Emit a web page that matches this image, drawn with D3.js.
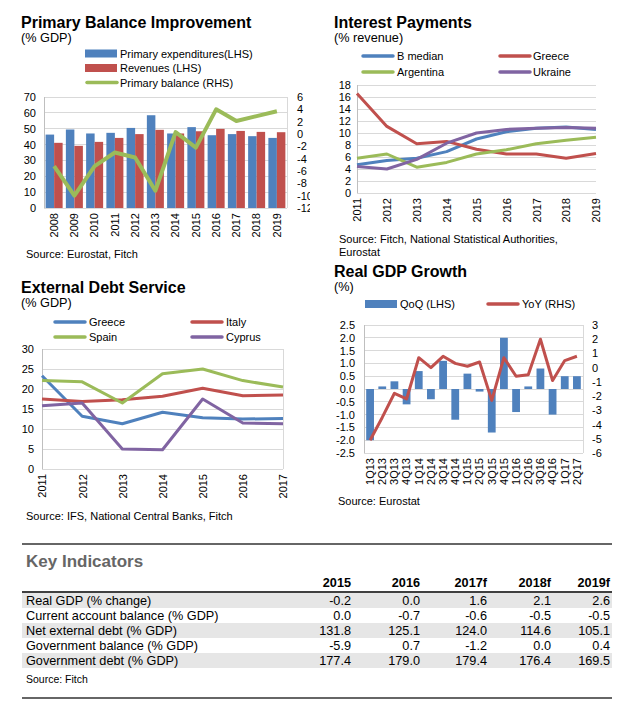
<!DOCTYPE html>
<html>
<head>
<meta charset="utf-8">
<script src="https://cdn.jsdelivr.net/npm/d3@7"></script>
<style>
    body { margin: 0; background: #fff; }
    text { font-family: "Liberation Sans", Arial, sans-serif; fill: #000; }
</style>
</head>
<body>
<svg id="page" width="626" height="720"></svg>
<script>
// ---- data ----
var pbYears = ['2008', '2009', '2010', '2011', '2012', '2013', '2014', '2015', '2016', '2017', '2018', '2019'];
var pbExpenditures = [46.3, 49.5, 47, 47.4, 50.5, 58.5, 47, 51, 45.9, 46.6, 45.3, 44.2];
var pbRevenues = [41.1, 39.2, 41.7, 44.2, 46.6, 49.3, 47, 48.4, 49.9, 48.6, 48, 47.8];
var pbBalance = [-5.2, -10, -5.2, -3.0, -3.8, -9.2, 0.3, -2.2, 4.0, 2.1, 2.9, 3.7];

var ipYears = ['2011', '2012', '2013', '2014', '2015', '2016', '2017', '2018', '2019'];
var ipBMedian = [4.7, 5.4, 5.8, 6.9, 9.0, 10.2, 10.8, 11.0, 10.6];
var ipGreece = [16.6, 11.1, 8.2, 8.6, 7.3, 6.5, 6.5, 5.8, 6.6];
var ipArgentina = [5.8, 6.5, 4.3, 5.1, 6.5, 7.2, 8.2, 8.8, 9.3];
var ipUkraine = [4.4, 4.0, 5.6, 8.3, 10.0, 10.6, 10.8, 10.9, 10.8];

var edYears = ['2011', '2012', '2013', '2014', '2015', '2016', '2017'];
var edGreece = [23.3, 13.2, 11.3, 14.2, 12.8, 12.5, 12.6];
var edItaly = [17.5, 16.9, 17.3, 18.2, 20.2, 18.3, 18.5];
var edSpain = [22.1, 21.8, 16.5, 23.8, 25.0, 22.1, 20.5];
var edCyprus = [15.8, 16.5, 5.0, 4.8, 17.5, 11.5, 11.3];

var gdpQuarters = ['1Q13', '2Q13', '3Q13', '4Q13', '1Q14', '2Q14', '3Q14', '4Q14', '1Q15',
    '2Q15', '3Q15', '4Q15', '1Q16', '2Q16', '3Q16', '4Q16', '1Q17', '2Q17'];
var gdpQoQ = [-2.0, 0.1, 0.3, -0.6, 0.7, -0.4, 1.1, -1.2, 0.6, -0.1, -1.7, 2.0, -0.9, 0.1, 0.8, -1.0, 0.5, 0.5];
var gdpYoY = [-5.1, -3.5, -1.8, -2.2, 0.7, 0.0, 0.8, 0.3, 0.1, 0.4, -2.3, 0.7, -0.6, -0.5, 2.0, -0.9, 0.5, 0.8];

var tblYears = ['2015', '2016', '2017f', '2018f', '2019f'];
var tblLabels = ['Real GDP (% change)', 'Current account balance (% GDP)', 'Net external debt (% GDP)',
    'Government balance (% GDP)', 'Government debt (% GDP)'];
var realGdp = [-0.2, 0.0, 1.6, 2.1, 2.6];
var currentAccount = [0.0, -0.7, -0.6, -0.5, -0.5];
var netExternalDebt = [131.8, 125.1, 124.0, 114.6, 105.1];
var govBalance = [-5.9, 0.7, -1.2, 0.0, 0.4];
var govDebt = [177.4, 179.0, 179.4, 176.4, 169.5];

// ---- styles ----
var BLUE = '#4f81bd', RED = '#c0504d', GREEN = '#9bbb59', PURPLE = '#8064a2';
var GRID = '#d9d9d9', FRAME = '#bfbfbf';

var svg = d3.select('#page');

function plain(d) { return String(d); }
function oneDecimal(d) { return d.toFixed(1); }

function heading(g, x, y, title, sub) {
    g.append('text').attr('x', x).attr('y', y)
        .style('font-size', '16px').style('font-weight', 'bold').text(title);
    g.append('text').attr('x', x).attr('y', y + 14)
        .style('font-size', '12.7px').text(sub);
}

function source(g, x, y, lines) {
    lines.forEach(function(line, i) {
        g.append('text').attr('x', x).attr('y', y + i * 13)
            .style('font-size', '11px').text(line);
    });
}

function grid(g, y, ticks, x0, x1) {
    g.append('g').selectAll('line').data(ticks).join('line')
        .attr('x1', x0).attr('x2', x1)
        .attr('y1', function(d) { return y(d); })
        .attr('y2', function(d) { return y(d); })
        .attr('stroke', GRID).attr('shape-rendering', 'crispEdges');
}

function frame(g, x0, x1, y0, y1, sides) {
    if (sides.indexOf('l') !== -1) {
        g.append('line').attr('x1', x0).attr('x2', x0).attr('y1', y0).attr('y2', y1)
            .attr('stroke', FRAME).attr('shape-rendering', 'crispEdges');
    }
    if (sides.indexOf('r') !== -1) {
        g.append('line').attr('x1', x1).attr('x2', x1).attr('y1', y0).attr('y2', y1)
            .attr('stroke', GRID).attr('shape-rendering', 'crispEdges');
    }
}

function valueAxis(g, axis, x) {
    var a = g.append('g').attr('transform', 'translate(' + x + ',0)').call(axis);
    a.select('.domain').remove();
    a.selectAll('text').style('font-size', '11px').style('font-family', null);
    return a;
}

function categoryAxis(g, scale, y) {
    var a = g.append('g').attr('transform', 'translate(0,' + y + ')')
        .call(d3.axisBottom(scale).tickSize(0));
    a.select('.domain').remove();
    a.selectAll('text')
        .attr('transform', 'rotate(-90)')
        .attr('x', -5).attr('y', 0).attr('dy', '0.35em')
        .style('text-anchor', 'end')
        .style('font-size', '11px').style('font-family', null);
    return a;
}

function legendItem(g, kind, color, x, y, label, textX) {
    if (kind === 'rect') {
        g.append('rect').attr('x', x).attr('y', y - 4).attr('width', 32).attr('height', 8)
            .attr('fill', color);
    } else {
        g.append('line').attr('x1', x + 2).attr('x2', x + 32).attr('y1', y).attr('y2', y)
            .attr('stroke', color).attr('stroke-width', 3.5).attr('stroke-linecap', 'round');
    }
    g.append('text').attr('x', textX).attr('y', y + 4)
        .style('font-size', '11px').text(label);
}

function drawLine(g, x, y, values, color, width) {
    var line = d3.line()
        .x(function(d, i) { return x(i); })
        .y(function(d) { return y(d); });
    g.append('path').datum(values)
        .attr('d', line)
        .attr('fill', 'none')
        .attr('stroke', color)
        .attr('stroke-width', width)
        .attr('stroke-linejoin', 'round');
}

// ---- Primary Balance Improvement ----
(function() {
    svg.append('clipPath').attr('id', 'clip-pb')
        .append('rect').attr('x', 0).attr('y', 0).attr('width', 310).attr('height', 268);
    var g = svg.append('g').attr('clip-path', 'url(#clip-pb)');
    var x0 = 44, x1 = 287, yTop = 97, yBot = 208;

    heading(g, 21, 28, 'Primary Balance Improvement', '(% GDP)');
    legendItem(g, 'rect', BLUE, 85, 53.5, 'Primary expenditures(LHS)', 120);
    legendItem(g, 'rect', RED, 85, 68, 'Revenues (LHS)', 120);
    legendItem(g, 'line', GREEN, 85, 82.5, 'Primary balance (RHS)', 120);

    var x = d3.scaleBand().domain(pbYears).range([x0, x1]).paddingInner(0.16).paddingOuter(0.08);
    var xs = d3.scaleBand().domain(['exp', 'rev']).range([0, x.bandwidth()]);
    var yL = d3.scaleLinear().domain([0, 70]).range([yBot, yTop]);
    var yR = d3.scaleLinear().domain([-12, 6]).range([yBot, yTop]);

    grid(g, yL, d3.range(0, 71, 10), x0, x1);
    frame(g, x0, x1, yTop, yBot, 'lr');

    var series = [{ key: 'exp', values: pbExpenditures, color: BLUE },
                  { key: 'rev', values: pbRevenues, color: RED }];
    series.forEach(function(s) {
        g.append('g').selectAll('rect').data(s.values).join('rect')
            .attr('x', function(d, i) { return x(pbYears[i]) + xs(s.key); })
            .attr('width', xs.bandwidth())
            .attr('y', function(d) { return yL(d); })
            .attr('height', function(d) { return yL(0) - yL(d); })
            .attr('fill', s.color);
    });

    drawLine(g, function(i) { return x(pbYears[i]) + x.bandwidth() / 2; }, yR, pbBalance, GREEN, 4);

    valueAxis(g, d3.axisLeft(yL).tickValues(d3.range(0, 71, 10)).tickSize(0).tickPadding(8).tickFormat(plain), x0);
    valueAxis(g, d3.axisRight(yR).tickValues(d3.range(-12, 7, 2)).tickSize(0).tickPadding(10).tickFormat(plain), x1);
    categoryAxis(g, x, yBot);

    source(g, 26, 258, ['Source: Eurostat, Fitch']);
})();

// ---- Interest Payments ----
(function() {
    var g = svg.append('g');
    var x0 = 357, x1 = 596, yTop = 85, yBot = 193;

    heading(g, 334, 28, 'Interest Payments', '(% revenue)');
    legendItem(g, 'line', BLUE, 361, 56, 'B median', 397);
    legendItem(g, 'line', RED, 498, 56, 'Greece', 533);
    legendItem(g, 'line', GREEN, 361, 72, 'Argentina', 397);
    legendItem(g, 'line', PURPLE, 498, 72, 'Ukraine', 533);

    var x = d3.scalePoint().domain(ipYears).range([x0, x1]);
    var y = d3.scaleLinear().domain([0, 18]).range([yBot, yTop]);

    grid(g, y, d3.range(0, 19, 2), x0, x1);
    frame(g, x0, x1, yTop, yBot, 'l');

    var xi = function(i) { return x(ipYears[i]); };
    drawLine(g, xi, y, ipBMedian, BLUE, 3);
    drawLine(g, xi, y, ipGreece, RED, 3);
    drawLine(g, xi, y, ipArgentina, GREEN, 3);
    drawLine(g, xi, y, ipUkraine, PURPLE, 3);

    valueAxis(g, d3.axisLeft(y).tickValues(d3.range(0, 19, 2)).tickSize(0).tickPadding(6).tickFormat(plain), x0);
    categoryAxis(g, x, yBot);

    source(g, 339, 243, ['Source: Fitch, National Statistical Authorities,', 'Eurostat']);
})();

// ---- External Debt Service ----
(function() {
    var g = svg.append('g');
    var x0 = 42, x1 = 283, yTop = 349, yBot = 469;

    heading(g, 21, 293, 'External Debt Service', '(% GDP)');
    legendItem(g, 'line', BLUE, 53, 322, 'Greece', 89);
    legendItem(g, 'line', RED, 190, 322, 'Italy', 226);
    legendItem(g, 'line', GREEN, 53, 337, 'Spain', 89);
    legendItem(g, 'line', PURPLE, 190, 337, 'Cyprus', 226);

    var x = d3.scalePoint().domain(edYears).range([x0, x1]);
    var y = d3.scaleLinear().domain([0, 30]).range([yBot, yTop]);

    grid(g, y, d3.range(0, 31, 5), x0, x1);
    frame(g, x0, x1, yTop, yBot, 'lr');

    var xi = function(i) { return x(edYears[i]); };
    drawLine(g, xi, y, edGreece, BLUE, 3);
    drawLine(g, xi, y, edItaly, RED, 3);
    drawLine(g, xi, y, edSpain, GREEN, 3);
    drawLine(g, xi, y, edCyprus, PURPLE, 3);

    valueAxis(g, d3.axisLeft(y).tickValues(d3.range(0, 31, 5)).tickSize(0).tickPadding(8).tickFormat(plain), x0);
    categoryAxis(g, x, yBot);

    source(g, 26, 520, ['Source: IFS, National Central Banks, Fitch']);
})();

// ---- Real GDP Growth ----
(function() {
    var g = svg.append('g');
    var x0 = 364, x1 = 583, yTop = 325, yBot = 453;

    heading(g, 334, 277, 'Real GDP Growth', '(%)');
    legendItem(g, 'rect', BLUE, 365, 304, 'QoQ (LHS)', 400);
    legendItem(g, 'line', RED, 486, 304, 'YoY (RHS)', 522);

    var x = d3.scaleBand().domain(gdpQuarters).range([x0, x1]).paddingInner(0.36).paddingOuter(0.18);
    var yL = d3.scaleLinear().domain([-2.5, 2.5]).range([yBot, yTop]);
    var yR = d3.scaleLinear().domain([-6, 3]).range([yBot, yTop]);
    var leftTicks = d3.range(-5, 6).map(function(k) { return k / 2; });

    grid(g, yL, leftTicks, x0, x1);
    frame(g, x0, x1, yTop, yBot, 'lr');

    g.append('g').selectAll('rect').data(gdpQoQ).join('rect')
        .attr('x', function(d, i) { return x(gdpQuarters[i]); })
        .attr('width', x.bandwidth())
        .attr('y', function(d) { return yL(Math.max(0, d)); })
        .attr('height', function(d) { return Math.abs(yL(d) - yL(0)); })
        .attr('fill', BLUE);

    drawLine(g, function(i) { return x(gdpQuarters[i]) + x.bandwidth() / 2; }, yR, gdpYoY, RED, 3);

    valueAxis(g, d3.axisLeft(yL).tickValues(leftTicks).tickSize(0).tickPadding(9).tickFormat(oneDecimal), x0);
    valueAxis(g, d3.axisRight(yR).tickValues(d3.range(-6, 4, 1)).tickSize(0).tickPadding(9).tickFormat(plain), x1);
    categoryAxis(g, x, yBot);

    source(g, 338, 505, ['Source: Eurostat']);
})();

// ---- Key Indicators table ----
(function() {
    var g = svg.append('g');
    var left = 22, right = 612, rowH = 15, headLine = 592;
    var rows = [realGdp, currentAccount, netExternalDebt, govBalance, govDebt];
    var colX = d3.scaleOrdinal().domain(tblYears).range([351, 420, 487, 551, 610]);

    g.append('line').attr('x1', left).attr('x2', right).attr('y1', 544).attr('y2', 544)
        .attr('stroke', '#666').attr('stroke-width', 2);
    g.append('line').attr('x1', left).attr('x2', right).attr('y1', 698).attr('y2', 698)
        .attr('stroke', '#666').attr('stroke-width', 2);

    g.append('text').attr('x', 26).attr('y', 567)
        .style('font-size', '17px').style('font-weight', 'bold').style('fill', '#666')
        .text('Key Indicators');

    g.selectAll('text.head').data(tblYears).join('text')
        .attr('class', 'head')
        .attr('x', function(d) { return colX(d); }).attr('y', 587)
        .attr('text-anchor', 'end')
        .style('font-size', '12.7px').style('font-weight', 'bold')
        .text(function(d) { return d; });

    var row = g.selectAll('g.row').data(rows).join('g')
        .attr('class', 'row')
        .attr('transform', function(d, i) { return 'translate(0,' + (headLine + 1 + i * rowH) + ')'; });

    row.filter(function(d, i) { return i % 2 === 0; })
        .append('rect').attr('x', left).attr('width', right - left).attr('height', rowH)
        .attr('fill', '#e6e6e6');

    row.append('text').attr('x', 26).attr('y', 12)
        .style('font-size', '12.7px')
        .text(function(d, i) { return tblLabels[i]; });

    row.selectAll('text.val').data(function(d) { return d; }).join('text')
        .attr('class', 'val')
        .attr('x', function(d, j) { return colX(tblYears[j]); }).attr('y', 12)
        .attr('text-anchor', 'end')
        .style('font-size', '12.7px')
        .text(oneDecimal);

    g.append('line').attr('x1', left).attr('x2', right).attr('y1', headLine).attr('y2', headLine)
        .attr('stroke', '#000').attr('stroke-width', 1.5);

    g.append('text').attr('x', 26).attr('y', 683)
        .style('font-size', '10.5px').text('Source: Fitch');
})();
</script>
</body>
</html>
